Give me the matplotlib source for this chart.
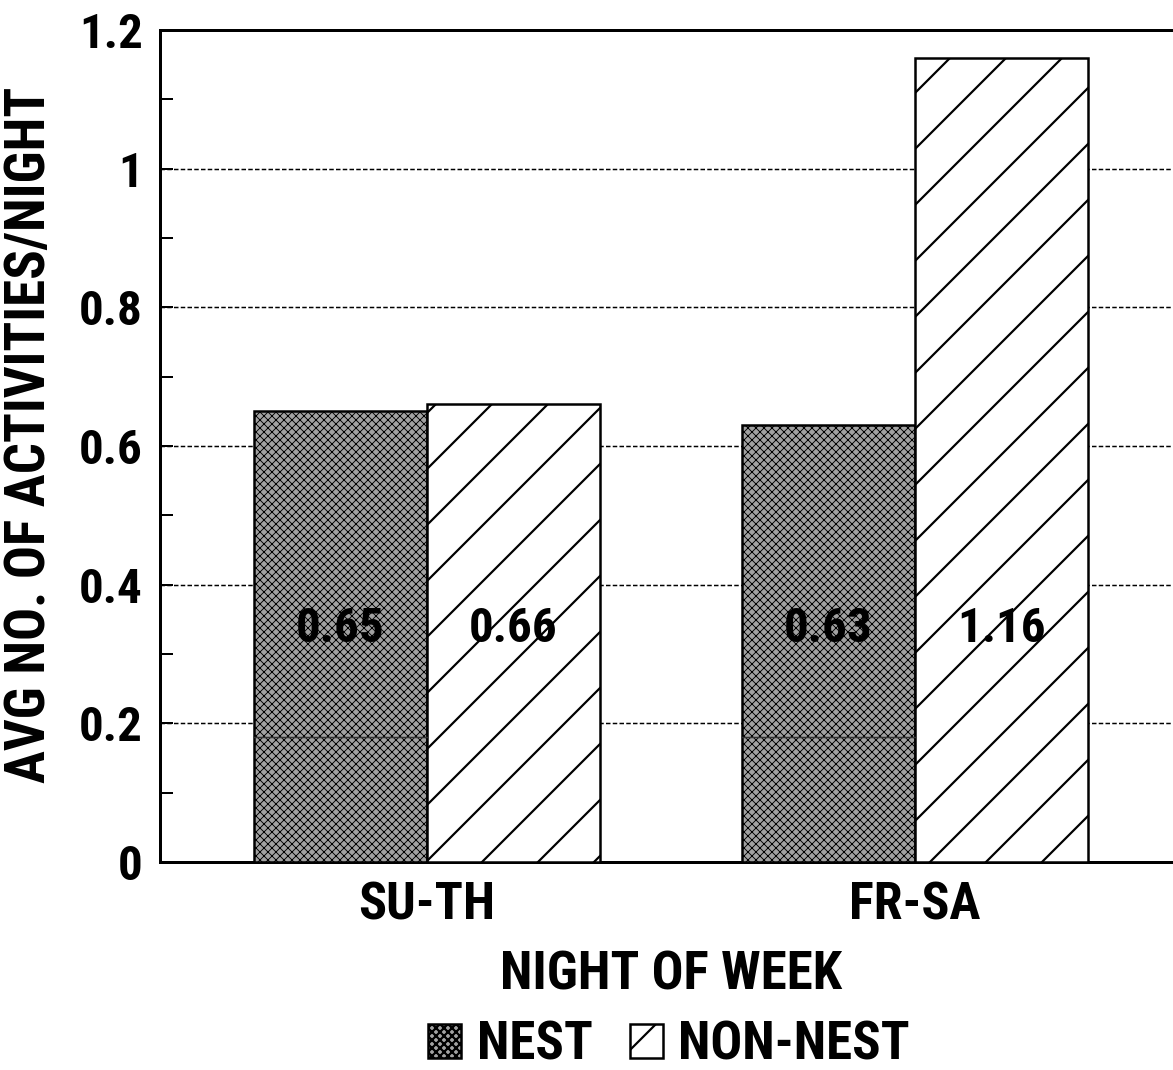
import matplotlib
matplotlib.use("Agg")
import matplotlib.pyplot as plt
import numpy as np

# data
nights = ["SU-TH", "FR-SA"]
nest = [0.65, 0.63]
non_nest = [0.66, 1.16]
nest_labels = ["0.65", "0.63"]
non_nest_labels = ["0.66", "1.16"]
inner_line = 0.18   # faint line drawn inside the nest bars

# high dpi so the diagonal hatch comes out as sparse as in the original
DPI = 336
P = 72.0 / DPI   # points per pixel

plt.rcParams.update({
    "font.family": ["Roboto Condensed", "DejaVu Sans"],
    "font.weight": "bold",
    "hatch.color": "black",
})

fig = plt.figure(figsize=(1173 / DPI, 1070 / DPI), dpi=DPI)
ax = fig.add_axes([160 / 1173, 208 / 1070, 1022 / 1173, 832 / 1070])

x = np.arange(len(nights))
w = 0.3545

plt.rcParams["hatch.linewidth"] = 0.9 * P
b1 = ax.bar(x - w / 2, nest, w, facecolor="#a2a2a2", edgecolor="black",
            linewidth=2.5 * P, hatch="x" * 14, label="NEST", zorder=3)
plt.rcParams["hatch.linewidth"] = 2.2 * P
b2 = ax.bar(x + w / 2, non_nest, w, facecolor="white", edgecolor="black",
            linewidth=2.5 * P, hatch="//", label="NON-NEST", zorder=3)

for p in b1:
    ax.plot([p.get_x(), p.get_x() + p.get_width()], [inner_line, inner_line],
            color="#333333", lw=1.5 * P, zorder=4)

label_y = 0.336
for i in range(len(nights)):
    ax.text(x[i] - w / 2, label_y, nest_labels[i], ha="center", va="center",
            fontsize=49 * P, fontweight="bold", zorder=5)
    ax.text(x[i] + w / 2, label_y, non_nest_labels[i], ha="center", va="center",
            fontsize=49 * P, fontweight="bold", zorder=5)

ax.set_xlim(-0.547, 1.547)
ax.set_ylim(0, 1.2)
ax.set_yticks([0, 0.2, 0.4, 0.6, 0.8, 1.0, 1.2])
ax.set_yticklabels(["0", "0.2", "0.4", "0.6", "0.8", "1", "1.2"])
ax.set_yticks(np.arange(0.1, 1.2, 0.2), minor=True)
ax.yaxis.grid(True, which="major", linestyle=(0, (3, 1.5)), color="black",
              linewidth=1.5 * P, zorder=0)
ax.set_axisbelow(True)

ax.set_xticks(x)
ax.set_xticklabels(nights)

ax.tick_params(axis="y", which="both", direction="in", length=13 * P,
               width=2 * P, labelsize=49 * P, pad=17 * P)
ax.tick_params(axis="x", length=0, labelsize=52 * P, pad=19 * P)

for s in ax.spines.values():
    s.set_linewidth(3 * P)

ax.set_ylabel("AVG NO. OF ACTIVITIES/NIGHT", fontsize=55 * P, fontweight="bold")
ax.yaxis.set_label_coords(56 / 1173, (1070 - 435) / 1070, transform=fig.transFigure)

fig.text(671 / 1173, 1 - 975 / 1070, "NIGHT OF WEEK", ha="center", va="center",
         fontsize=53 * P, fontweight="bold")

fig.legend(handles=[b1, b2], labels=["NEST", "NON-NEST"], loc="center",
           bbox_to_anchor=(669 / 1173, 1 - 1045 / 1070), ncol=2, frameon=False,
           fontsize=53 * P, handlelength=0.62, handleheight=0.62,
           handletextpad=0.3, columnspacing=0.7)

fig.savefig("out.png", dpi=DPI)
